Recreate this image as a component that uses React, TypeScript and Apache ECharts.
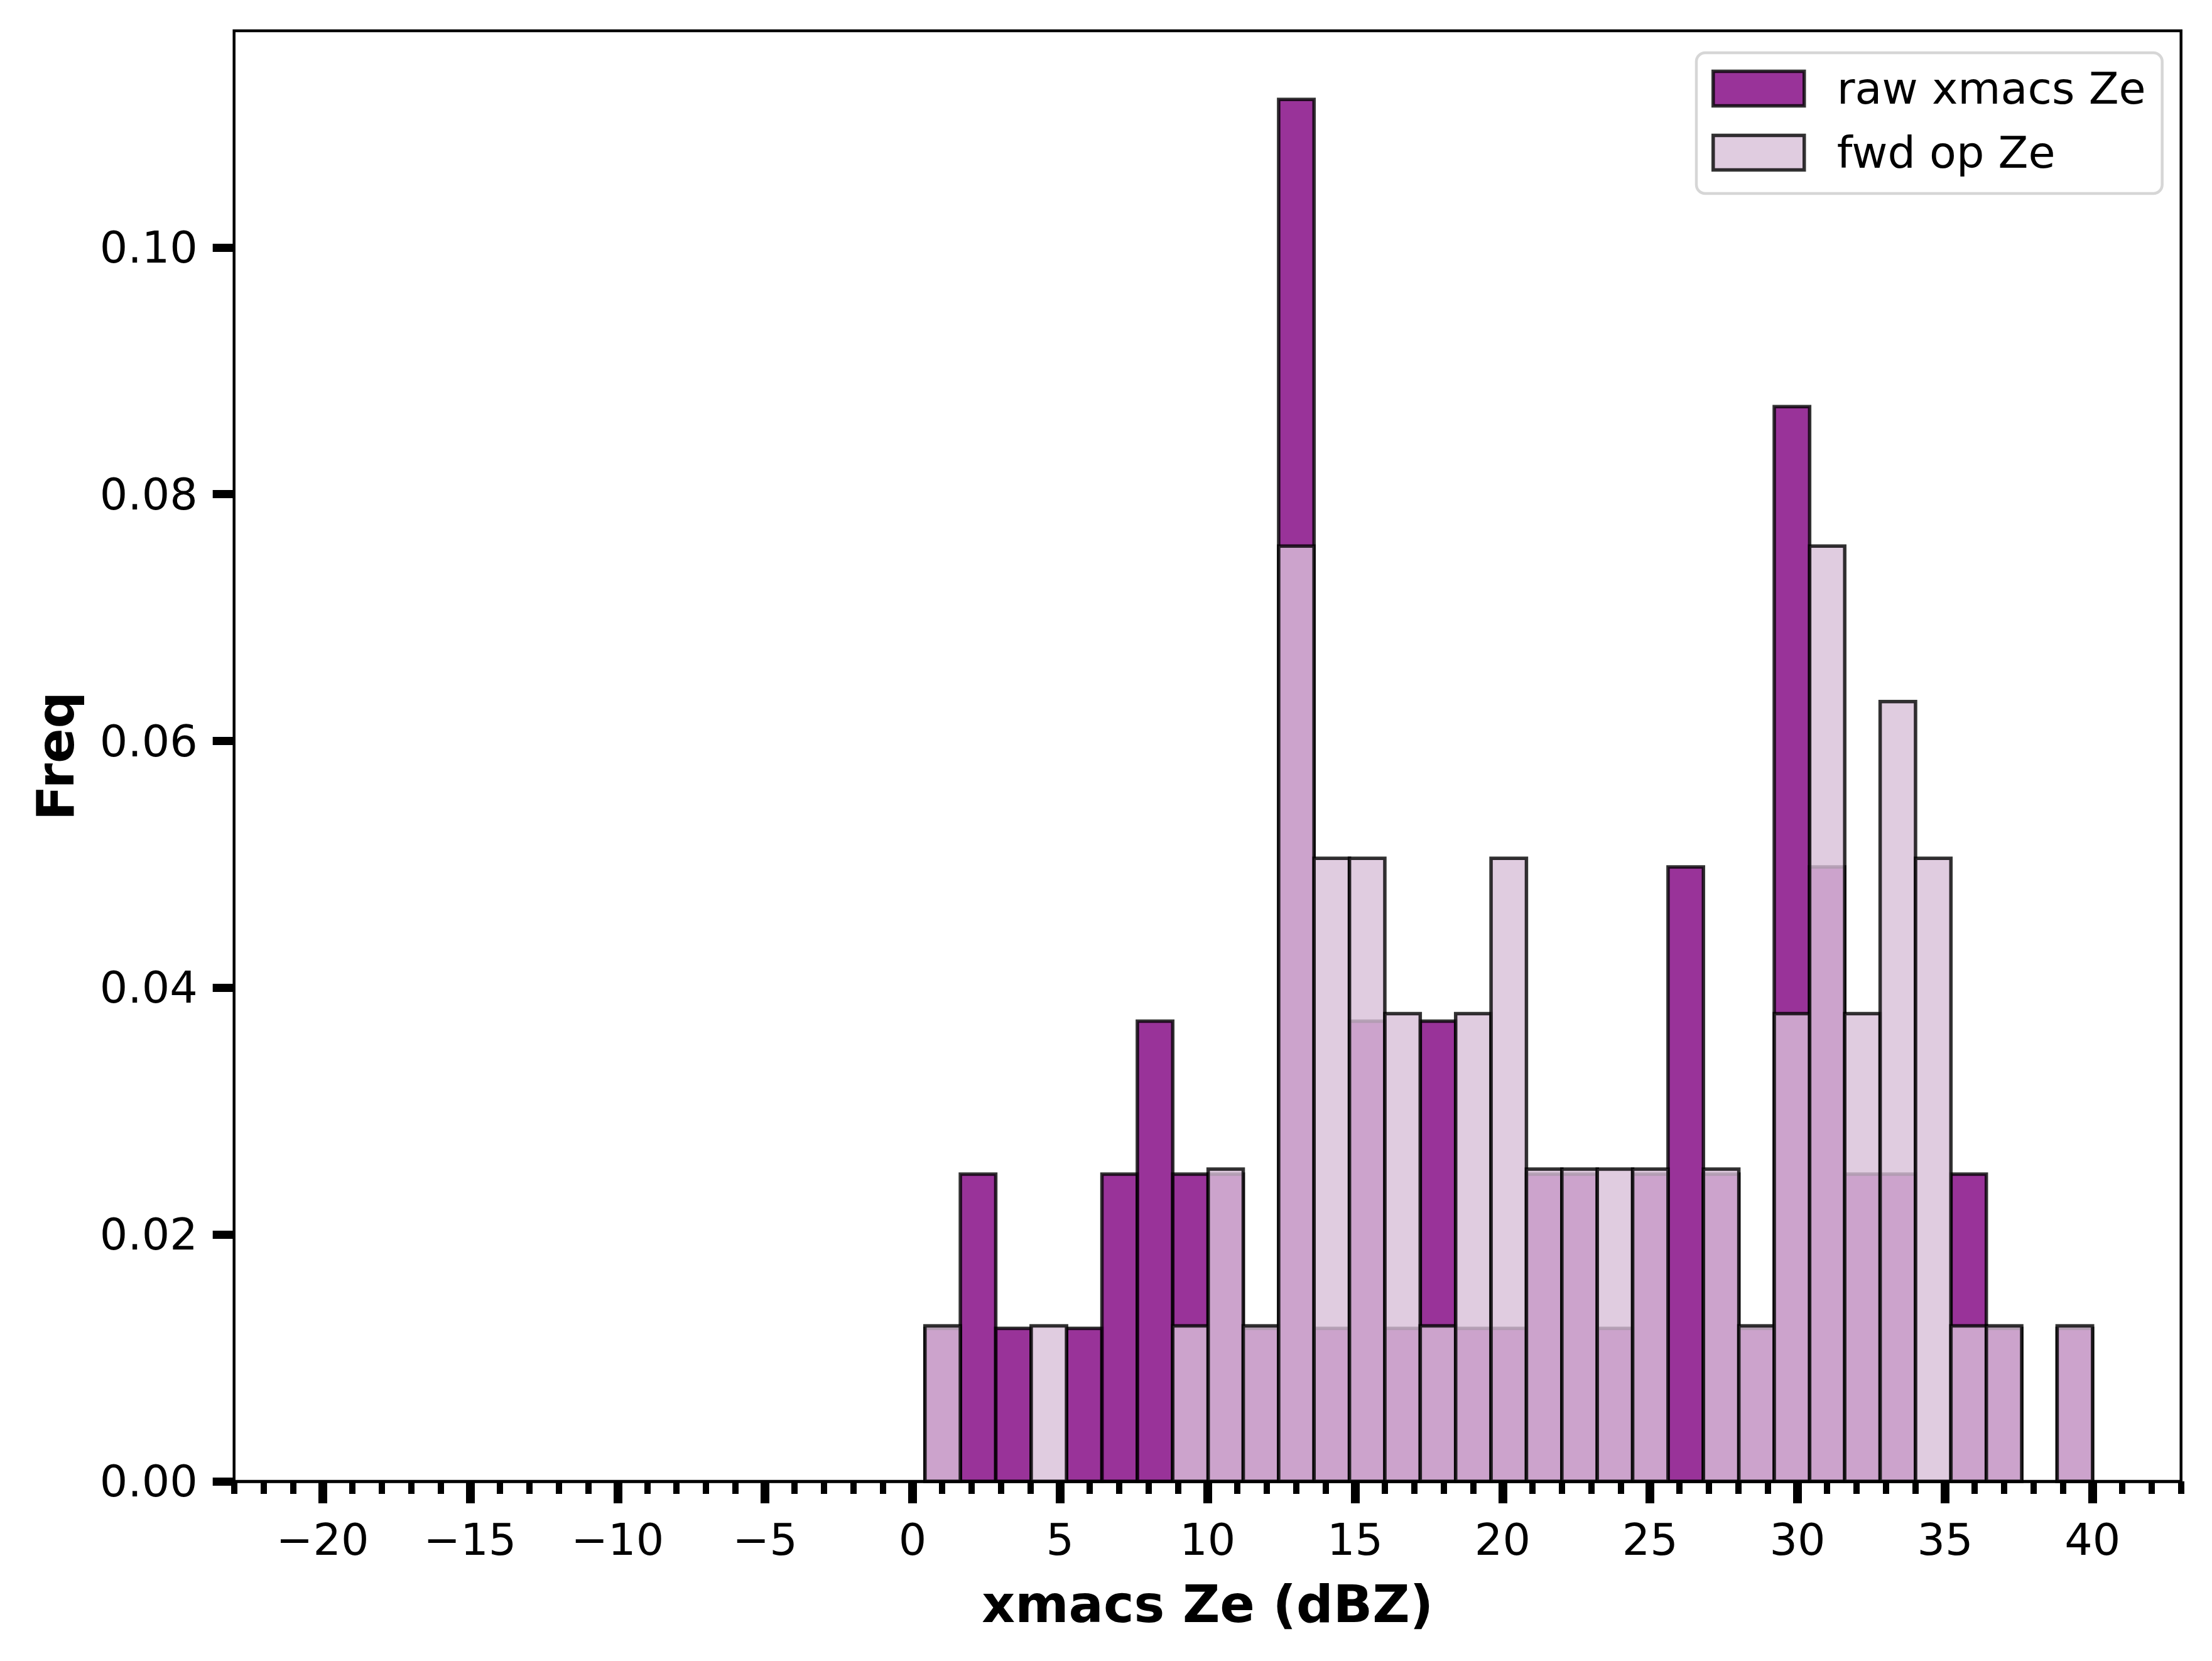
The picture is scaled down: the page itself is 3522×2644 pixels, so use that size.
import React, { useEffect, useRef } from "react";
import * as echarts from "echarts";

// Histogram bin edges (dBZ)
const BIN_EDGES = [
  0.42, 1.62, 2.82, 4.02, 5.22, 6.42, 7.62, 8.82, 10.02, 11.21, 12.41, 13.61,
  14.81, 16.01, 17.21, 18.41, 19.61, 20.81, 22.01, 23.21, 24.41, 25.61, 26.81,
  28.01, 29.21, 30.41, 31.6, 32.8, 34.0, 35.2, 36.4, 37.6, 38.8, 40.0,
];

// Frequency (density) per bin
const RAW_FREQ = [
  0.0124, 0.0249, 0.0124, 0, 0.0124, 0.0249, 0.0373, 0.0249, 0.0249, 0.0124,
  0.112, 0.0124, 0.0373, 0.0124, 0.0373, 0.0124, 0.0124, 0.0249, 0.0249,
  0.0124, 0.0249, 0.0498, 0.0249, 0.0124, 0.0871, 0.0498, 0.0249, 0.0249, 0,
  0.0249, 0.0124, 0, 0.0124,
];
const FWD_FREQ = [
  0.0126, 0, 0, 0.0126, 0, 0, 0, 0.0126, 0.0253, 0.0126, 0.0758, 0.0505,
  0.0505, 0.0379, 0.0126, 0.0379, 0.0505, 0.0253, 0.0253, 0.0253, 0.0253, 0,
  0.0253, 0.0126, 0.0379, 0.0758, 0.0379, 0.0632, 0.0505, 0.0126, 0.0126, 0,
  0.0126,
];

const SERIES_NAMES = ["raw xmacs Ze", "fwd op Ze"];

const X_MAJOR_TICKS = [-20, -15, -10, -5, 0, 5, 10, 15, 20, 25, 30, 35, 40];
const X_MINOR_TICKS = [
  -23, -22, -21, -19, -18, -17, -16, -14, -13, -12, -11, -9, -8, -7, -6, -4,
  -3, -2, -1, 1, 2, 3, 4, 6, 7, 8, 9, 11, 12, 13, 14, 16, 17, 18, 19, 21, 22,
  23, 24, 26, 27, 28, 29, 31, 32, 33, 34, 36, 37, 38, 39, 41, 42, 43,
];
const Y_TICKS = [0, 0.02, 0.04, 0.06, 0.08, 0.1];

const X_MIN = -23;
const X_MAX = 43;
const Y_MAX = 0.11756;

const FONT = "DejaVu Sans";
const RAW_FILL = "rgba(128,0,128,0.8)";
const FWD_FILL = "rgba(216,191,216,0.8)";
const EDGE = "rgba(0,0,0,0.8)";
const EDGE_W = 5.5;

function binData(freq: number[]) {
  const out: number[][] = [];
  freq.forEach((v, i) => {
    if (v > 0) out.push([BIN_EDGES[i], BIN_EDGES[i + 1], v]);
  });
  return out;
}

function makeRender(fill: string) {
  return (params: any, api: any) => {
    const x0 = api.value(0);
    const x1 = api.value(1);
    const h = api.value(2);
    const a = api.coord([x0, h]);
    const b = api.coord([x1, 0]);
    return {
      type: "rect",
      shape: { x: a[0], y: a[1], width: b[0] - a[0], height: b[1] - a[1] },
      style: { fill, stroke: EDGE, lineWidth: EDGE_W },
    };
  };
}

const fmtX = (v: number) => (v < 0 ? "\u2212" + Math.abs(v) : String(v));

export default function App() {
  const ref = useRef<HTMLDivElement>(null);
  useEffect(() => {
    document.body.style.margin = "0";
    const chart = echarts.init(ref.current!, undefined, { renderer: "svg" });
    const tickLabel = { fontSize: 70, fontFamily: FONT, color: "#000" };
    chart.setOption({
      animation: false,
      backgroundColor: "#fff",
      textStyle: { fontFamily: FONT },
      grid: {
        left: 372.7,
        right: 49.3,
        top: 49,
        bottom: 286,
        show: true,
        borderColor: "#000",
        borderWidth: 4.5,
        backgroundColor: "transparent",
      },
      legend: {
        orient: "vertical",
        left: 2701,
        top: 84,
        padding: [22, 26, 30, 24],
        itemWidth: 145,
        itemHeight: 55,
        itemGap: 32,
        backgroundColor: "rgba(255,255,255,0.8)",
        borderColor: "#d6d6d6",
        borderWidth: 4.5,
        borderRadius: 14,
        textStyle: {
          fontSize: 70,
          fontFamily: FONT,
          color: "#000",
          padding: [0, 0, 0, 47],
        },
        data: [
          {
            name: SERIES_NAMES[0],
            icon: "rect",
            itemStyle: { color: RAW_FILL, borderColor: EDGE, borderWidth: EDGE_W },
          },
          {
            name: SERIES_NAMES[1],
            icon: "rect",
            itemStyle: { color: FWD_FILL, borderColor: EDGE, borderWidth: EDGE_W },
          },
        ],
      },
      xAxis: [
        {
          type: "value",
          min: X_MIN,
          max: X_MAX,
          position: "bottom",
          z: 10,
          axisLine: {
            show: true,
            onZero: false,
            lineStyle: { color: "#000", width: 4.5 },
          },
          axisTick: {
            show: true,
            customValues: X_MAJOR_TICKS,
            length: 35,
            lineStyle: { color: "#000", width: 14 },
          },
          axisLabel: {
            ...tickLabel,
            customValues: X_MAJOR_TICKS,
            margin: 58,
            formatter: fmtX,
          },
          splitLine: { show: false },
          name: "xmacs Ze (dBZ)",
          nameLocation: "middle",
          nameGap: 154,
          nameTextStyle: {
            fontSize: 82,
            fontWeight: "bold",
            fontFamily: FONT,
            color: "#000",
          },
        },
        {
          type: "value",
          min: X_MIN,
          max: X_MAX,
          position: "bottom",
          z: 10,
          axisLine: { show: false, onZero: false },
          axisTick: {
            show: true,
            customValues: X_MINOR_TICKS,
            length: 20,
            lineStyle: { color: "#000", width: 10 },
          },
          axisLabel: { show: false },
          splitLine: { show: false },
        },
      ],
      yAxis: {
        type: "value",
        min: 0,
        max: Y_MAX,
        position: "left",
        z: 10,
        axisLine: { show: false, onZero: false },
        axisTick: {
          show: true,
          customValues: Y_TICKS,
          length: 34,
          lineStyle: { color: "#000", width: 13 },
        },
        axisLabel: {
          ...tickLabel,
          customValues: Y_TICKS,
          margin: 58,
          formatter: (v: number) => v.toFixed(2),
        },
        splitLine: { show: false },
        name: "Freq",
        nameLocation: "middle",
        nameGap: 243,
        nameRotate: 90,
        nameTextStyle: {
          fontSize: 82,
          fontWeight: "bold",
          fontFamily: FONT,
          color: "#000",
        },
      },
      series: [
        {
          name: SERIES_NAMES[0],
          type: "custom",
          xAxisIndex: 0,
          yAxisIndex: 0,
          itemStyle: { color: RAW_FILL },
          renderItem: makeRender(RAW_FILL),
          encode: { x: [0, 1], y: 2 },
          data: binData(RAW_FREQ),
          z: 2,
        },
        {
          name: SERIES_NAMES[1],
          type: "custom",
          xAxisIndex: 0,
          yAxisIndex: 0,
          itemStyle: { color: FWD_FILL },
          renderItem: makeRender(FWD_FILL),
          encode: { x: [0, 1], y: 2 },
          data: binData(FWD_FREQ),
          z: 3,
        },
      ],
    });
    return () => chart.dispose();
  }, []);
  return (
    <div
      ref={ref}
      style={{ position: "fixed", left: 0, top: 0, width: 3522, height: 2644 }}
    />
  );
}
